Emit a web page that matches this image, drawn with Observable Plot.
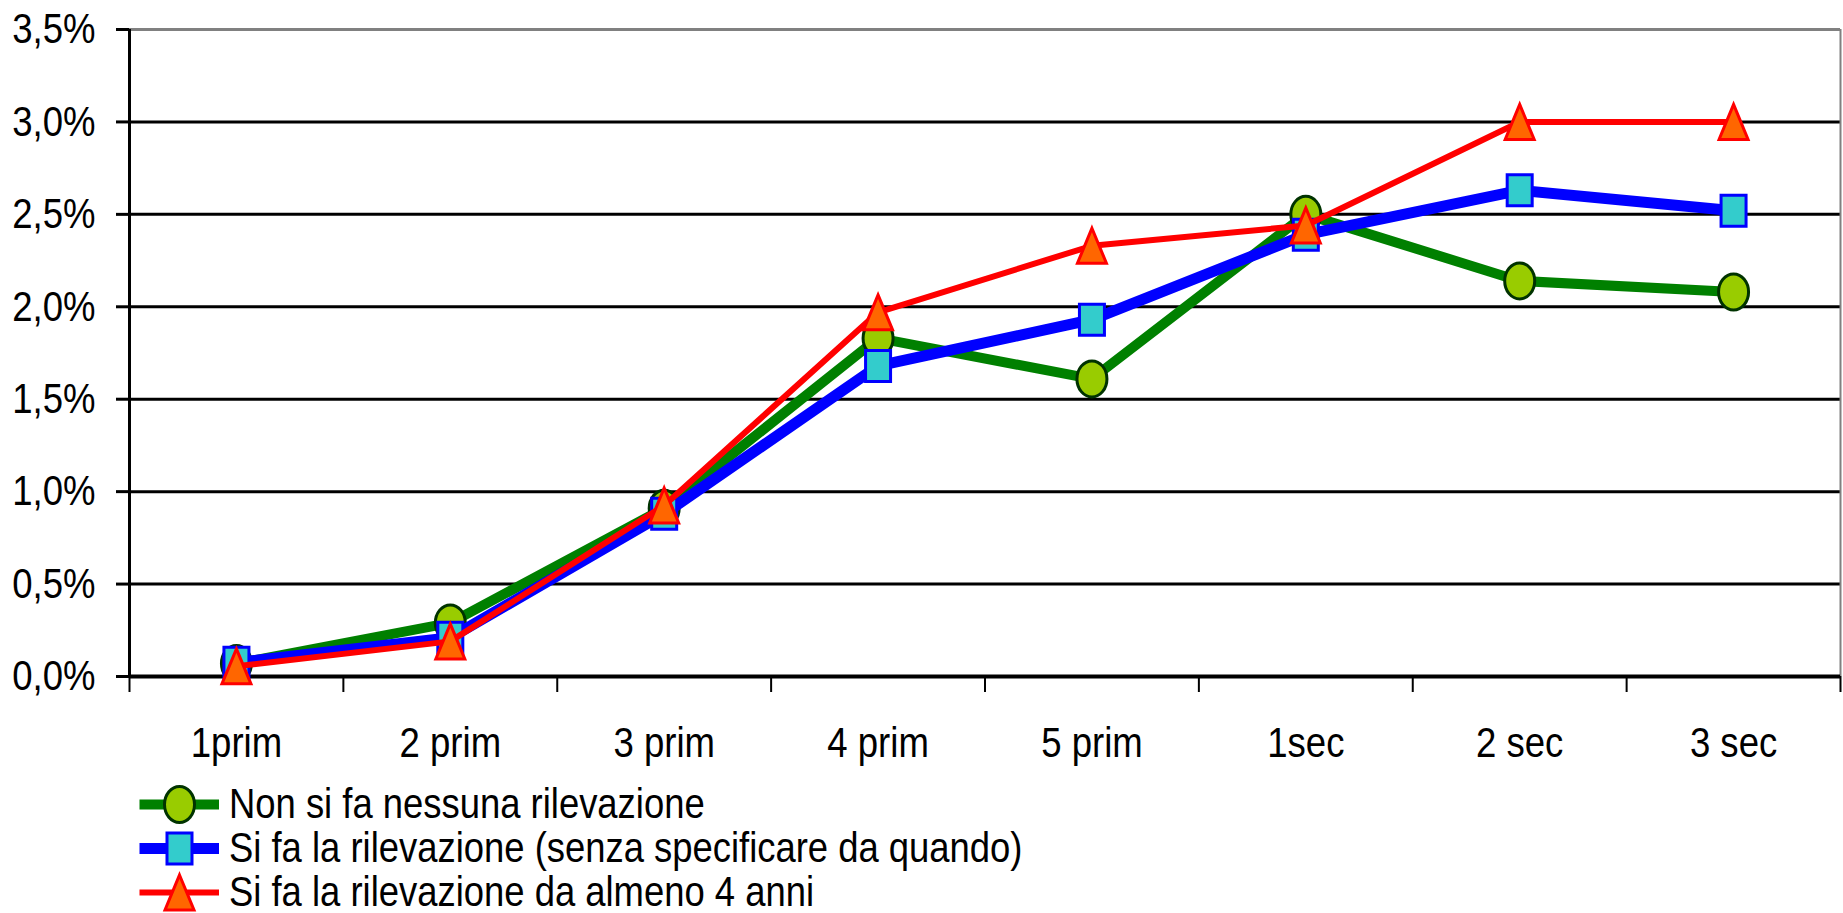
<!DOCTYPE html>
<html>
<head>
<meta charset="utf-8">
<script src="https://cdn.jsdelivr.net/npm/d3@7"></script>
<script src="https://cdn.jsdelivr.net/npm/@observablehq/plot@0.6"></script>
<style>
  html, body { margin: 0; padding: 0; background: #fff; }
  body { width: 1843px; height: 913px; overflow: hidden; font-family: 'Liberation Sans', Arial, sans-serif; }
  #chart svg { display: block; }
  #legend { padding-left: 139px; padding-top: 12px; }
  .row { display: flex; align-items: center; height: 44px; }
  .row svg { display: block; flex: none; }
  .row span { display: inline-block; font-size: 42px; margin-left: 10px; color: #000; line-height: 40px; white-space: nowrap; transform: scaleX(0.867); transform-origin: 0 50%; }
</style>
</head>
<body>
<div id="chart"></div>
<div id="legend"></div>
<script>
const categories = ["1prim", "2 prim", "3 prim", "4 prim", "5 prim", "1sec", "2 sec", "3 sec"];
const seriesNames = [
  "Non si fa nessuna rilevazione",
  "Si fa la rilevazione (senza specificare da quando)",
  "Si fa la rilevazione da almeno 4 anni"
];
const nessuna = [0.07, 0.29, 0.91, 1.83, 1.61, 2.50, 2.14, 2.08];
const senzaSpecificare = [0.075, 0.21, 0.88, 1.68, 1.93, 2.39, 2.63, 2.52];
const almeno4anni = [0.055, 0.19, 0.925, 1.97, 2.33, 2.44, 3.00, 3.00];
const yTicks = [0, 0.5, 1, 1.5, 2, 2.5, 3, 3.5];

const seriesValues = [nessuna, senzaSpecificare, almeno4anni];

function ellipseSymbol(rx, ry) {
  return { draw(ctx) {
    const k = 0.5523;
    ctx.moveTo(rx, 0);
    ctx.bezierCurveTo(rx, k * ry, k * rx, ry, 0, ry);
    ctx.bezierCurveTo(-k * rx, ry, -rx, k * ry, -rx, 0);
    ctx.bezierCurveTo(-rx, -k * ry, -k * rx, -ry, 0, -ry);
    ctx.bezierCurveTo(k * rx, -ry, rx, -k * ry, rx, 0);
    ctx.closePath();
  }};
}
function rectSymbol(w, h) {
  return { draw(ctx) {
    ctx.moveTo(-w / 2, -h / 2);
    ctx.lineTo(w / 2, -h / 2);
    ctx.lineTo(w / 2, h / 2);
    ctx.lineTo(-w / 2, h / 2);
    ctx.closePath();
  }};
}
function triSymbol(w, h) {
  return { draw(ctx) {
    ctx.moveTo(0, -h / 2);
    ctx.lineTo(w / 2, h / 2);
    ctx.lineTo(-w / 2, h / 2);
    ctx.closePath();
  }};
}

const styles = [
  { line: "#008000", lineWidth: 10, fill: "#99CC00", mstroke: "#003300", mwidth: 3, symbol: ellipseSymbol(15, 18) },
  { line: "#0000FF", lineWidth: 11, fill: "#33CCCC", mstroke: "#0000FF", mwidth: 3, symbol: rectSymbol(25, 31) },
  { line: "#FF0000", lineWidth: 6, fill: "#FF6600", mstroke: "#FF0000", mwidth: 3, symbol: triSymbol(29, 35) }
];

const rows = [];
seriesValues.forEach((vals, s) => vals.forEach((v, i) => rows.push({ series: seriesNames[s], s, xi: i + 0.5, v })));

const fmt = d => d.toFixed(1).replace(".", ",") + "%";
const font = "'Liberation Sans', Arial, sans-serif";

const seriesMarks = [];
styles.forEach((st, s) => {
  const data = rows.filter(r => r.s === s);
  seriesMarks.push(Plot.line(data, { x: "xi", y: "v", stroke: st.line, strokeWidth: st.lineWidth, strokeLinejoin: "miter", strokeLinecap: "butt" }));
  seriesMarks.push(Plot.dot(data, { x: "xi", y: "v", symbol: st.symbol, r: 10, fill: st.fill, stroke: st.mstroke, strokeWidth: st.mwidth }));
});

const chart = Plot.plot({
  width: 1843,
  height: 770,
  marginLeft: 129,
  marginRight: 3,
  marginTop: 29,
  marginBottom: 94,
  x: { type: "linear", domain: [0, categories.length], label: null },
  y: { domain: [0, 3.5], label: null },
  style: { fontFamily: font, fontSize: "43px", color: "#000", background: "#fff" },
  marks: [
    Plot.ruleY(yTicks.filter(t => t > 0 && t < 3.5), { stroke: "#000", strokeWidth: 3 }),
    Plot.ruleY([3.5], { stroke: "#808080", strokeWidth: 3 }),
    Plot.ruleX([categories.length], { stroke: "#808080", strokeWidth: 2 }),
    Plot.axisY({ ticks: yTicks, tickSize: 13, tickPadding: 21, tickFormat: fmt, strokeWidth: 3, fontSize: 43, label: null }),
    Plot.ruleX([0], { stroke: "#000", strokeWidth: 3 }),
    Plot.axisX({ ticks: d3.range(categories.length + 1), tickSize: 16, tickFormat: () => "", strokeWidth: 2, label: null }),
    Plot.axisX({ ticks: categories.map((c, i) => i + 0.5), tickSize: 0, tickPadding: 50, tickFormat: d => categories[Math.floor(d)], fontSize: 43, label: null }),
    Plot.ruleY([0], { stroke: "#000", strokeWidth: 4 }),
    ...seriesMarks
  ]
});
document.getElementById("chart").appendChild(chart);

// narrow the text horizontally (the reference uses a narrow sans font)
chart.querySelectorAll("text").forEach(t => {
  const tr = t.getAttribute("transform") || "";
  const x = t.getAttribute("x");
  if (x && +x !== 0) {
    t.setAttribute("transform", tr + ` translate(${x},0) scale(0.85,1)`);
    t.setAttribute("x", 0);
  } else {
    t.setAttribute("transform", tr + " scale(0.85,1)");
  }
});

// legend
const legend = document.getElementById("legend");
styles.forEach((st, s) => {
  const row = document.createElement("div");
  row.className = "row";
  const sw = Plot.plot({
    width: 80, height: 44, margin: 0,
    x: { domain: [0, 2], axis: null },
    y: { domain: [0, 1], axis: null },
    style: { background: "transparent" },
    marks: [
      Plot.line([{ x: 0, y: 0.5 }, { x: 2, y: 0.5 }], { x: "x", y: "y", stroke: st.line, strokeWidth: st.lineWidth, strokeLinecap: "butt" }),
      Plot.dot([{ x: 1, y: 0.5 }], { x: "x", y: "y", symbol: st.symbol, r: 10, fill: st.fill, stroke: st.mstroke, strokeWidth: st.mwidth })
    ]
  });
  row.appendChild(sw);
  const span = document.createElement("span");
  span.textContent = seriesNames[s];
  row.appendChild(span);
  legend.appendChild(row);
});
</script>
</body>
</html>
